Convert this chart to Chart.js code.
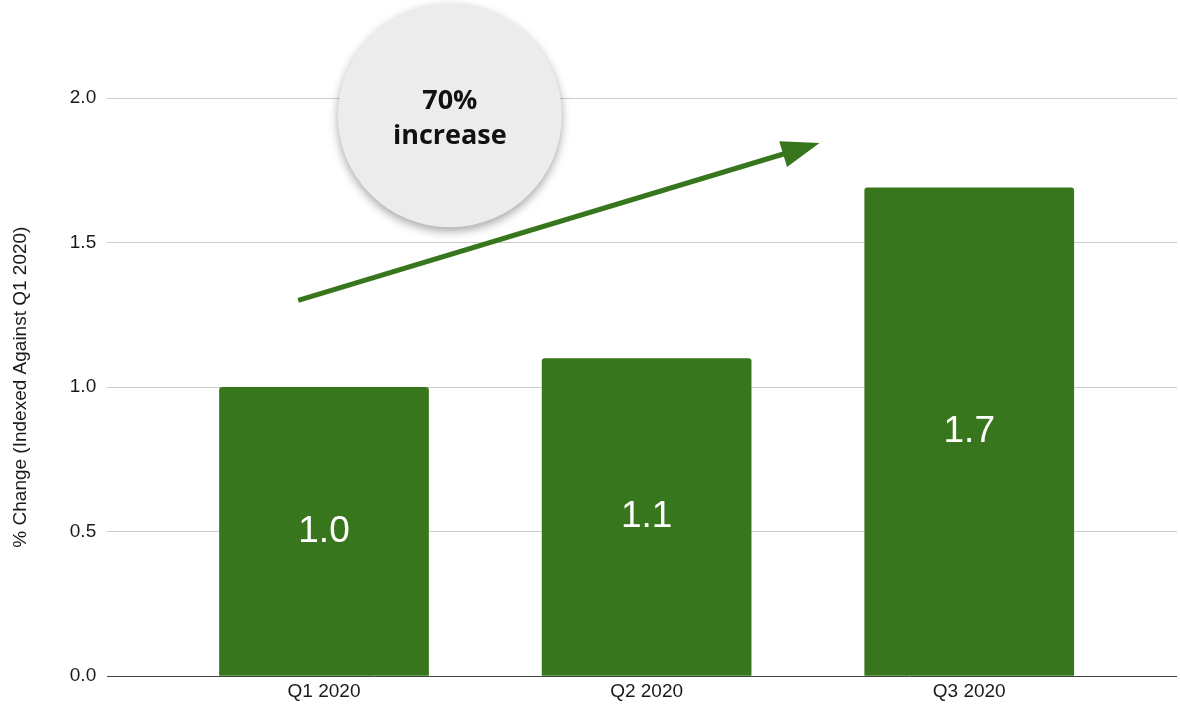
<!DOCTYPE html>
<html>
<head>
<meta charset="utf-8">
<script src="https://cdn.jsdelivr.net/npm/chart.js"></script>
<style>
  html, body { margin: 0; padding: 0; background: #fff; }
  #wrap { width: 1180px; height: 708px; position: relative; }
</style>
</head>
<body>
<div id="wrap"><canvas id="chart"></canvas></div>
<script>
// data
var categories = ['Q1 2020', 'Q2 2020', 'Q3 2020'];
var indexValues = [1.0, 1.1, 1.69];
var yTicks = [0, 0.5, 1.0, 1.5, 2.0];
var axisTitle = '% Change (Indexed Against Q1 2020)';

// callout: arrow from/to and bubble centre, in data units (x = category index)
var arrowFrom = [-0.08, 1.30];
var arrowTo = [1.536, 1.844];
var bubbleAt = [0.39, 1.94];
var bubbleText = ['70%', 'increase'];

var green = '#38761d';

var calloutPlugin = {
  id: 'callout',
  afterDraw: function(chart) {
    var ctx = chart.ctx;
    var xs = chart.scales.x, ys = chart.scales.y;

    // arrow
    var x0 = xs.getPixelForValue(arrowFrom[0]), y0 = ys.getPixelForValue(arrowFrom[1]);
    var x1 = xs.getPixelForValue(arrowTo[0]), y1 = ys.getPixelForValue(arrowTo[1]);
    var ang = Math.atan2(y1 - y0, x1 - x0);
    var headLen = 38, headHalf = 13.5;
    var bx = x1 - headLen * Math.cos(ang), by = y1 - headLen * Math.sin(ang);
    ctx.save();
    ctx.strokeStyle = green;
    ctx.lineWidth = 5;
    ctx.beginPath();
    ctx.moveTo(x0, y0);
    ctx.lineTo(bx + 2 * Math.cos(ang), by + 2 * Math.sin(ang));
    ctx.stroke();
    ctx.fillStyle = green;
    ctx.beginPath();
    ctx.moveTo(x1, y1);
    ctx.lineTo(bx + headHalf * Math.sin(ang), by - headHalf * Math.cos(ang));
    ctx.lineTo(bx - headHalf * Math.sin(ang), by + headHalf * Math.cos(ang));
    ctx.closePath();
    ctx.fill();
    ctx.restore();

    // bubble
    var cx = xs.getPixelForValue(bubbleAt[0]), cy = ys.getPixelForValue(bubbleAt[1]);
    ctx.save();
    ctx.shadowColor = 'rgba(0,0,0,0.35)';
    ctx.shadowBlur = 10;
    ctx.shadowOffsetY = 4;
    ctx.fillStyle = '#ececec';
    ctx.beginPath();
    ctx.arc(cx, cy, 112, 0, Math.PI * 2);
    ctx.fill();
    ctx.restore();

    ctx.save();
    ctx.fillStyle = '#111';
    ctx.font = '700 27px "Open Sans"';
    ctx.textAlign = 'center';
    ctx.textBaseline = 'middle';
    ctx.fillText(bubbleText[0], cx, cy - 14);
    ctx.fillText(bubbleText[1], cx, cy + 21);
    ctx.restore();
  }
};

var barLabels = {
  id: 'barLabels',
  afterDatasetsDraw: function(chart) {
    var ctx = chart.ctx;
    var meta = chart.getDatasetMeta(0);
    ctx.save();
    ctx.fillStyle = '#fff';
    ctx.font = '37px "Liberation Sans", Arial, sans-serif';
    ctx.textAlign = 'center';
    ctx.textBaseline = 'middle';
    meta.data.forEach(function(bar, i) {
      ctx.fillText(indexValues[i].toFixed(1), bar.x, (bar.y + bar.base) / 2);
    });
    ctx.restore();
  }
};

new Chart(document.getElementById('chart'), {
  type: 'bar',
  data: {
    datasets: [{
      data: indexValues.map(function(v, i) { return { x: i, y: v }; }),
      backgroundColor: green,
      borderRadius: { topLeft: 3, topRight: 3 },
      borderSkipped: 'bottom',
      categoryPercentage: 1,
      barPercentage: 0.65
    }]
  },
  options: {
    responsive: true,
    maintainAspectRatio: false,
    animation: false,
    layout: { padding: { top: 98, right: 3, left: 9, bottom: 0 } },
    plugins: { legend: { display: false }, tooltip: { enabled: false } },
    scales: {
      x: {
        type: 'linear',
        offset: false,
        min: -0.672,
        max: 2.644,
        afterBuildTicks: function(axis) {
          axis.ticks = categories.map(function(c, i) { return { value: i }; });
        },
        grid: { display: false, drawTicks: false },
        border: { display: false },
        ticks: {
          padding: 4.5,
          color: '#1a1a1a',
          font: { family: '"Liberation Sans", Arial, sans-serif', size: 19 },
          callback: function(v) { return categories[v]; }
        }
      },
      y: {
        min: 0,
        max: 2,
        afterBuildTicks: function(axis) {
          axis.ticks = yTicks.map(function(v) { return { value: v }; });
        },
        border: { display: false },
        grid: {
          drawTicks: false,
          color: function(c) { return c.tick && c.tick.value === 0 ? '#444' : '#cccccc'; },
          lineWidth: 1
        },
        ticks: {
          padding: 11,
          color: '#1a1a1a',
          font: { family: '"Liberation Sans", Arial, sans-serif', size: 19 },
          callback: function(v) { return v.toFixed(1); }
        },
        title: {
          display: true,
          text: axisTitle,
          color: '#1a1a1a',
          font: { family: '"Liberation Sans", Arial, sans-serif', size: 19 },
          padding: { top: 0, bottom: 27 }
        }
      }
    }
  },
  plugins: [barLabels, calloutPlugin]
});
</script>
</body>
</html>
